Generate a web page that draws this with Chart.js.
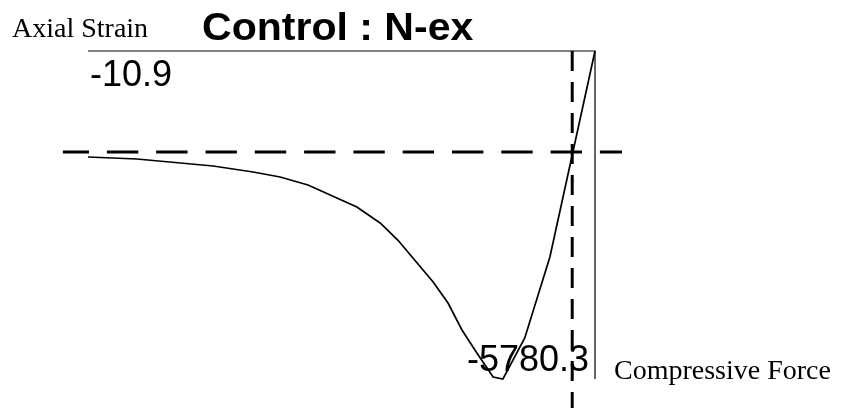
<!DOCTYPE html>
<html>
<head>
<meta charset="utf-8">
<script src="https://cdn.jsdelivr.net/npm/chart.js@4/dist/chart.umd.min.js"></script>
<style>
  html, body { margin: 0; padding: 0; background: #ffffff; }
  #wrap { width: 848px; height: 408px; }
</style>
</head>
<body>
<div id="wrap"><canvas id="c" width="848" height="408"></canvas></div>
<script>
// Load path: axial strain vs compressive force
const strain = [-10.9, -9.85, -8.21, -7.35, -6.77, -6.17, -5.12, -4.62, -4.24, -3.48, -3.16, -2.86, -2.54, -2.19, -1.98, -1.51, -0.97, 0];
const force  = [-1868, -1903, -2027, -2132, -2220, -2361, -2749, -3031, -3331, -4071, -4441, -4917, -5322, -5745, -5780.3, -5058, -3630, 0];

// Reference (dashed) lines
const refStrain = -0.49;
const refForce = -1780;
const refStrainSpan = [-11.44, 0.58];
const refForceSpan = [0, -6300];

// Labels
const titleText = 'Control : N-ex';
const xAxisName = 'Axial Strain';
const yAxisName = 'Compressive Force';

const strainMin = Math.min(...strain);
const forceMin = Math.min(...force);

const curvePts = strain.map((s, i) => ({ x: s, y: force[i] }));
const axisPts = [{ x: strainMin, y: 0 }, { x: 0, y: 0 }, { x: 0, y: forceMin }];
const hRefPts = refStrainSpan.map(s => ({ x: s, y: refForce }));
const vRefPts = refForceSpan.map(f => ({ x: refStrain, y: f }));

const labelPlugin = {
  id: 'labels',
  afterDatasetsDraw(chart) {
    const ctx = chart.ctx;
    const xs = chart.scales.x, ys = chart.scales.y;
    const x0 = xs.getPixelForValue(0);
    const y0 = ys.getPixelForValue(0);
    const xMinPx = xs.getPixelForValue(strainMin);
    const yMinPx = ys.getPixelForValue(forceMin);
    ctx.save();
    ctx.fillStyle = '#000';
    ctx.textBaseline = 'alphabetic';

    ctx.font = '28px "Liberation Serif", "Times New Roman", serif';
    ctx.textAlign = 'left';
    ctx.fillText(xAxisName, 12, 37);
    ctx.fillText(yAxisName, x0 + 19, yMinPx);

    // title, slightly widened
    ctx.save();
    ctx.font = 'bold 38px "Liberation Sans", Arial, sans-serif';
    ctx.translate(202, 40);
    ctx.scale(1.08, 1);
    ctx.fillText(titleText, 0, 0);
    ctx.restore();

    ctx.font = '36px "Liberation Sans", Arial, sans-serif';
    ctx.textAlign = 'left';
    ctx.fillText(String(strainMin), xMinPx + 2, y0 + 35);
    ctx.textAlign = 'right';
    ctx.fillText(String(forceMin), x0 - 6, yMinPx - 8);
    ctx.restore();
  }
};

new Chart(document.getElementById('c'), {
  type: 'scatter',
  data: {
    datasets: [
      { data: axisPts, showLine: true, borderColor: '#000', borderWidth: 1.2, pointRadius: 0, tension: 0, clip: false },
      { data: hRefPts, showLine: true, borderColor: '#000', borderWidth: 3, borderDash: [31.4, 17.9], borderDashOffset: 5.3, pointRadius: 0, clip: false },
      { data: vRefPts, showLine: true, borderColor: '#000', borderWidth: 3, borderDash: [20, 11], pointRadius: 0, clip: false },
      { data: curvePts, showLine: true, borderColor: '#000', borderWidth: 1.7, pointRadius: 0, tension: 0, clip: false }
    ]
  },
  options: {
    responsive: false,
    animation: false,
    events: [],
    layout: { padding: 0 },
    plugins: { legend: { display: false }, tooltip: { enabled: false }, title: { display: false } },
    scales: {
      x: { type: 'linear', display: false, min: -12.792, max: 5.439 },
      y: { type: 'linear', display: false, min: -6291.4, max: 898.8 }
    }
  },
  plugins: [labelPlugin]
});
</script>
</body>
</html>
